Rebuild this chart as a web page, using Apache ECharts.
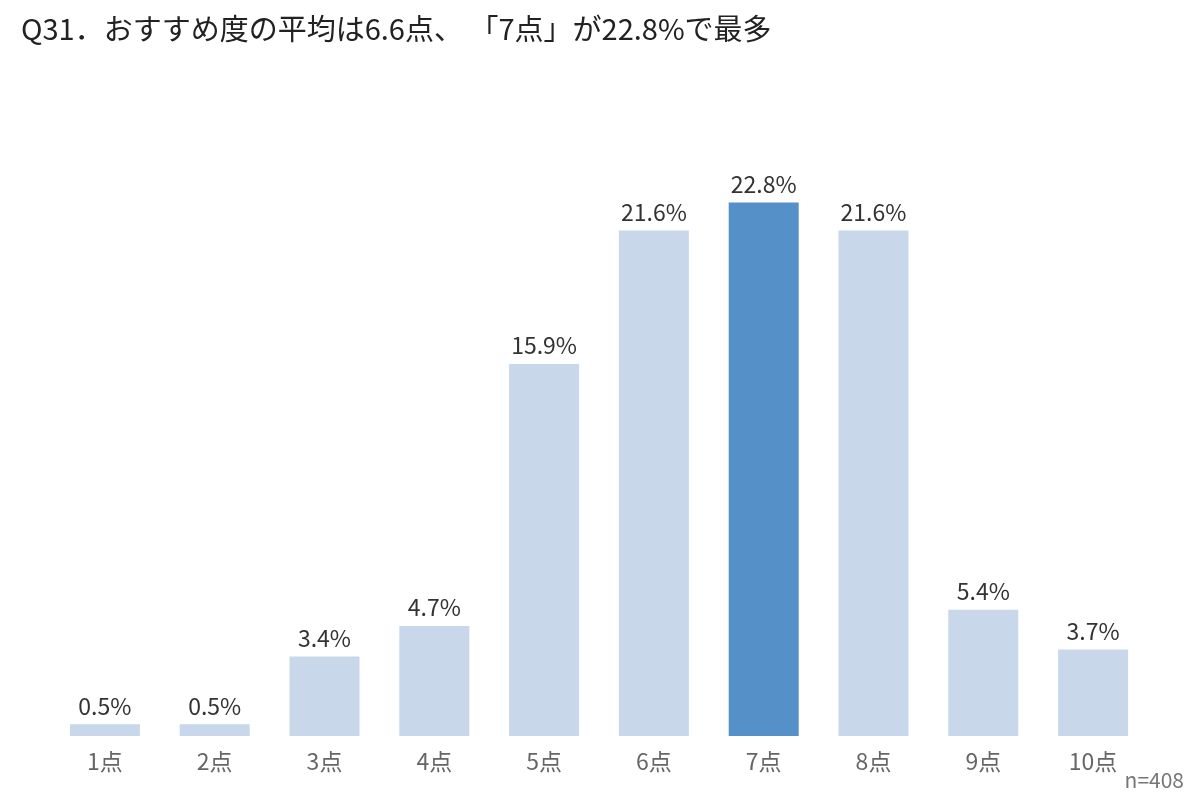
<!DOCTYPE html>
<html>
<head>
<meta charset="utf-8">
<script src="https://cdn.jsdelivr.net/npm/echarts@6/dist/echarts.min.js"></script>
<style>
  html, body { margin: 0; padding: 0; background: #fff; }
  #chart { width: 1200px; height: 808px; }
</style>
</head>
<body>
<div id="chart"></div>
<script>
// おすすめ度 1〜10点 の回答割合（%）
const categories = ['1点', '2点', '3点', '4点', '5点', '6点', '7点', '8点', '9点', '10点'];
const shares = [0.5, 0.5, 3.4, 4.7, 15.9, 21.6, 22.8, 21.6, 5.4, 3.7];
const highlightIndex = 6; // 「7点」が最多

const fontFamily = '"Noto Sans CJK JP", "Noto Sans", sans-serif';

const myChart = echarts.init(document.getElementById('chart'));

myChart.setOption({
    backgroundColor: '#ffffff',
    animation: false,
    title: {
        text: 'Q31．おすすめ度の平均は6.6点、 「7点」が22.8%で最多',
        left: 16,
        top: 9,
        textStyle: { fontFamily: fontFamily, fontSize: 29, fontWeight: 'normal', color: '#222' }
    },
    graphic: [{
        type: 'text',
        right: 16,
        top: 770,
        style: { text: 'n=408', fontFamily: fontFamily, fontSize: 21, fill: '#777' }
    }],
    grid: { left: 50, right: 52, top: 151, bottom: 72 },
    xAxis: {
        type: 'category',
        data: categories,
        axisLine: { show: false },
        axisTick: { show: false },
        axisLabel: { margin: 14, fontFamily: fontFamily, fontSize: 23, color: '#666' }
    },
    yAxis: {
        type: 'value',
        min: 0,
        max: 25,
        show: false,
        splitLine: { show: false }
    },
    series: [{
        type: 'bar',
        barWidth: 70,
        data: shares.map((v, i) => ({
            value: v,
            itemStyle: { color: i === highlightIndex ? '#5590c8' : '#c9d7ea' }
        })),
        label: {
            show: true,
            position: 'top',
            distance: 7,
            formatter: p => p.value.toFixed(1) + '%',
            fontFamily: fontFamily,
            fontSize: 23,
            color: '#333'
        }
    }]
});
</script>
</body>
</html>
